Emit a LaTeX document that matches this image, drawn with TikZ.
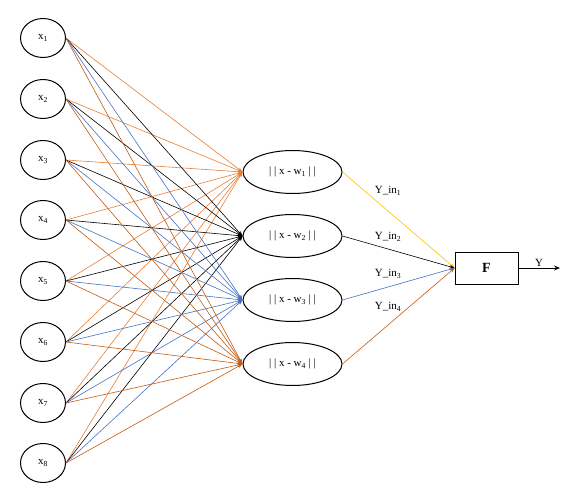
\documentclass[tikz,border=0pt]{standalone}
\usepackage{fontspec}
\setmainfont{Liberation Serif}
\usetikzlibrary{arrows.meta, shapes.geometric}
\definecolor{RBForange}{HTML}{ED7D31}
\definecolor{RBFblue}{HTML}{4472C4}
\definecolor{RBFbrown}{HTML}{C55A11}
\definecolor{RBFyellow}{HTML}{FFC000}

\begin{document}
\begin{tikzpicture}[x=1pt, y=-1pt,
      innode/.style={draw, line width=1pt, ellipse, minimum width=45pt, minimum height=39pt, inner sep=0pt, font=\fontsize{11}{13}\selectfont},
      hidnode/.style={draw, line width=1pt, ellipse, minimum width=99pt, minimum height=43pt, inner sep=0pt, font=\fontsize{11}{13}\selectfont},
      link/.style={line width=0.6pt, -{Stealth[length=5pt, width=3.5pt]}},
      lab/.style={font=\fontsize{11}{13}\selectfont}]
      \useasboundingbox (0,0) rectangle (576,490);
      % Inputs
      \foreach \i/\y in {1/38, 2/99, 3/160, 4/220, 5/281, 6/342, 7/403, 8/463}
         \node[innode] (x\i) at (43,\y) {x\textsubscript{\i}};
      % Distance units
      \foreach \j/\y in {1/172, 2/236, 3/300, 4/364}
         \node[hidnode] (h\j) at (292.5,\y) {| | x - w\textsubscript{\j} | |};
      % Output unit
      \node[draw, line width=0.8pt, minimum width=63pt, minimum height=32pt, font=\fontsize{14}{16}\selectfont\bfseries] (F) at (486.5,268) {F};
      \coordinate (Yout) at (560,268);
      % Input links, one colour per unit
      \foreach \j/\c in {1/RBForange, 2/black, 3/RBFblue, 4/RBFbrown}
         \foreach \i in {1,...,8}
            \draw[link, \c] (x\i.east) -- (h\j.west);
      % Unit outputs
      \foreach \j/\c in {1/RBFyellow, 2/black, 3/RBFblue, 4/RBFbrown}
         \draw[link, \c] (h\j.east) -- (F.west);
      \node[lab] at (388,191) {Y\_in\textsubscript{1}};
      \node[lab] at (388,237) {Y\_in\textsubscript{2}};
      \node[lab] at (388,274) {Y\_in\textsubscript{3}};
      \node[lab] at (388,307) {Y\_in\textsubscript{4}};
      % Y
      \draw[line width=0.8pt, -{Stealth[length=6pt, width=5pt]}] (F.east) -- (Yout)
         node[midway, above, lab, inner sep=1pt] {Y};
\end{tikzpicture}
\end{document}
